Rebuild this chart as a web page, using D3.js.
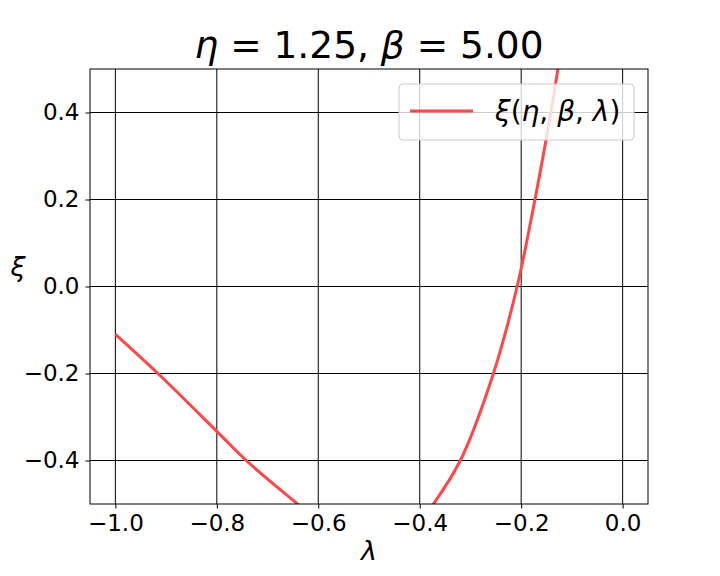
<!DOCTYPE html>
<html>
<head>
<meta charset="utf-8">
<script src="https://cdn.jsdelivr.net/npm/d3@7"></script>
<style>
  body { margin: 0; background: #fff; }
  text { font-family: "DejaVu Sans", sans-serif; }
</style>
</head>
<body>
<div class="chart"></div>
<script>
// values (where the curve crosses the grid lines)
let leftLambda = [-1.0, -0.916, -0.8, -0.742, -0.644, -0.635];
let leftXi = [-0.110, -0.2, -0.333, -0.4, -0.497, -0.506];
let rightLambda = [-0.379, -0.320, -0.2547, -0.208, -0.1728, -0.1415, -0.1276, -0.125];
let rightXi = [-0.51, -0.4, -0.2, 0.0, 0.2, 0.4, 0.5, 0.52];
let xTicks = [-1.0, -0.8, -0.6, -0.4, -0.2, 0.0];
let yTicks = [-0.4, -0.2, 0.0, 0.2, 0.4];

let W = 720, H = 576;
let margin = { top: 69, right: 72, bottom: 72, left: 90 },
    width = W - margin.left - margin.right,
    height = H - margin.top - margin.bottom;

let x = d3.scaleLinear().domain([-1.05, 0.05]).range([0, width]);
let y = d3.scaleLinear().domain([-0.5, 0.5]).range([height, 0]);

let fmt = d => d3.format('.1f')(d).replace('-', '\u2212');

let svg = d3.select('.chart').append('svg')
    .attr('width', W).attr('height', H);

let g = svg.append('g')
    .attr('transform', 'translate(' + margin.left + ',' + margin.top + ')');

g.append('clipPath').attr('id', 'clip')
    .append('rect').attr('width', width).attr('height', height);

// grid
g.selectAll('.vgrid').data(xTicks).enter().append('line')
    .attr('x1', d => x(d)).attr('x2', d => x(d))
    .attr('y1', 0).attr('y2', height)
    .attr('stroke', '#000').attr('stroke-width', 1);
g.selectAll('.hgrid').data(yTicks).enter().append('line')
    .attr('y1', d => y(d)).attr('y2', d => y(d))
    .attr('x1', 0).attr('x2', width)
    .attr('stroke', '#000').attr('stroke-width', 1);

// curve, two branches
let line = d3.line().x(d => x(d[0])).y(d => y(d[1])).curve(d3.curveCatmullRom.alpha(0.5));
let branches = [
    leftLambda.map((l, i) => [l, leftXi[i]]),
    rightLambda.map((l, i) => [l, rightXi[i]])
];
g.selectAll('.branch').data(branches).enter().append('path')
    .attr('d', line)
    .attr('clip-path', 'url(#clip)')
    .attr('fill', 'none')
    .attr('stroke', '#ff4747')
    .attr('stroke-width', 3);

// axes
let xAxis = d3.axisBottom(x).tickValues(xTicks).tickFormat(fmt).tickSize(4.5).tickPadding(6);
let yAxis = d3.axisLeft(y).tickValues(yTicks).tickFormat(fmt).tickSize(4.5).tickPadding(6);

let xg = g.append('g').attr('transform', 'translate(0,' + height + ')').call(xAxis);
let yg = g.append('g').call(yAxis);
[xg, yg].forEach(a => {
    a.select('.domain').remove();
    a.attr('font-size', 23).attr('font-family', '"DejaVu Sans", sans-serif');
    a.selectAll('text').attr('fill', '#000');
    a.selectAll('line').attr('stroke', '#000');
});

// frame
g.append('rect').attr('width', width).attr('height', height)
    .attr('fill', 'none').attr('stroke', '#000').attr('stroke-width', 1);

// legend
let lg = g.append('g').attr('transform', 'translate(' + (width - 249) + ',15)');
lg.append('rect')
    .attr('width', 235).attr('height', 56)
    .attr('rx', 4)
    .attr('fill', 'rgba(255,255,255,0.8)')
    .attr('stroke', '#cccccc').attr('stroke-width', 1);
lg.append('line')
    .attr('x1', 11).attr('x2', 74).attr('y1', 27).attr('y2', 27)
    .attr('stroke', '#ff4747').attr('stroke-width', 3);
let lt = lg.append('text').attr('x', 96).attr('y', 37).attr('font-size', 28);
lt.append('tspan').attr('font-style', 'italic').text('ξ');
lt.append('tspan').text('(');
lt.append('tspan').attr('font-style', 'italic').text('η');
lt.append('tspan').text(', ');
lt.append('tspan').attr('font-style', 'italic').text('β');
lt.append('tspan').text(', ');
lt.append('tspan').attr('font-style', 'italic').text('λ');
lt.append('tspan').text(')');

// title
let title = svg.append('text')
    .attr('x', margin.left + width / 2).attr('y', 58)
    .attr('text-anchor', 'middle').attr('font-size', 37.5);
title.append('tspan').attr('font-style', 'italic').text('η');
title.append('tspan').text(' = 1.25, ');
title.append('tspan').attr('font-style', 'italic').text('β');
title.append('tspan').text(' = 5.00');

// axis names
svg.append('text')
    .attr('x', margin.left + width / 2).attr('y', 560)
    .attr('text-anchor', 'middle').attr('font-size', 27)
    .attr('font-style', 'italic').text('λ');
svg.append('text')
    .attr('x', 18).attr('y', 276)
    .attr('text-anchor', 'middle').attr('font-size', 27)
    .attr('font-style', 'italic').text('ξ');
</script>
</body>
</html>
